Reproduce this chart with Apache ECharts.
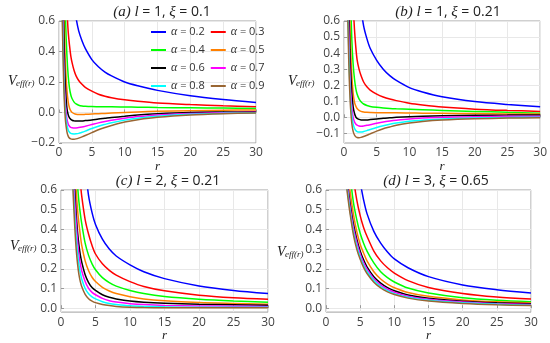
<!DOCTYPE html>
<html><head><meta charset="utf-8">
<script src="https://cdn.jsdelivr.net/npm/echarts@6/dist/echarts.min.js"></script>
<style>html,body{margin:0;padding:0;background:#fff}#c{width:550px;height:343px}</style>
</head><body><div id="c"></div>
<script>
const alphaNames = ['α = 0.2','α = 0.3','α = 0.4','α = 0.5','α = 0.6','α = 0.7','α = 0.8','α = 0.9'];
const colors = ['#0000ff','#ff0000','#00ff00','#ff8000','#000000','#ff00ff','#00ffff','#996633'];
const panelTitles = ['(a)|l|1|0.1','(b)|l|1|0.21','(c)|l|2|0.21','(d)|l|3|0.65'];
const xTicks = [0,5,10,15,20,25,30];
const yTicksA = [-0.2,0,0.2,0.4,0.6];
const yTicksB = [-0.1,0,0.1,0.2,0.3,0.4,0.5,0.6];
const yTicksC = [0,0.1,0.2,0.3,0.4,0.5,0.6];
const yTicksD = [0,0.1,0.2,0.3,0.4,0.5,0.6];

// panel (a)
const rA = [0.4,0.5,0.55,0.6,0.7,0.8,0.9,1.0,1.2,1.4,1.6,1.8,2.0,2.3,2.6,3.0,3.5,4,5,6,7,8,10,12,15,20,25,30];
const a02 = [null,null,null,null,null,null,null,null,null,null,null,null,0.83,0.71,0.62,0.535,0.47,0.42,0.347,0.3,0.265,0.24,0.2,0.175,0.145,0.11,0.085,0.065];
const a03 = [null,null,null,null,null,null,null,null,0.68,0.53,0.44,0.37,0.325,0.275,0.24,0.21,0.185,0.165,0.14,0.12,0.107,0.097,0.083,0.073,0.062,0.052,0.044,0.038];
const a04 = [null,null,null,null,null,null,0.8,0.6,0.38,0.24,0.16,0.115,0.09,0.068,0.056,0.048,0.043,0.041,0.039,0.038,0.037,0.037,0.036,0.035,0.033,0.031,0.029,0.027];
const a05 = [null,null,null,null,0.85,0.6,0.42,0.3,0.15,0.07,0.03,0.01,0.0,-0.007,-0.011,-0.013,-0.013,-0.012,-0.01,-0.008,-0.006,-0.004,0.0,0.004,0.008,0.012,0.015,0.017];
const a06 = [null,null,null,0.9,0.6,0.4,0.25,0.15,0.03,-0.015,-0.035,-0.045,-0.051,-0.055,-0.056,-0.056,-0.055,-0.053,-0.049,-0.043,-0.038,-0.033,-0.025,-0.016,-0.008,0.0,0.003,0.005];
const a07 = [null,null,0.75,0.6,0.38,0.22,0.11,0.04,-0.04,-0.075,-0.09,-0.097,-0.1,-0.102,-0.101,-0.099,-0.095,-0.09,-0.079,-0.068,-0.059,-0.051,-0.038,-0.027,-0.016,-0.006,-0.001,0.002];
const a08 = [null,0.72,0.6,0.48,0.3,0.15,0.05,-0.01,-0.08,-0.115,-0.13,-0.137,-0.14,-0.141,-0.14,-0.137,-0.13,-0.122,-0.105,-0.09,-0.078,-0.067,-0.05,-0.037,-0.024,-0.011,-0.005,-0.001];
const a09 = [0.85,0.6,0.5,0.4,0.22,0.09,0.0,-0.06,-0.125,-0.155,-0.168,-0.173,-0.175,-0.175,-0.173,-0.168,-0.16,-0.151,-0.132,-0.113,-0.098,-0.085,-0.062,-0.047,-0.031,-0.016,-0.008,-0.003];

// panel (b)
const rB = [0.4,0.5,0.55,0.6,0.7,0.8,0.9,1.0,1.2,1.4,1.6,1.8,2.0,2.3,2.6,3.0,3.5,4,5,6,7,8,10,12,15,20,25,30];
const b02 = [null,null,null,null,null,null,null,null,null,null,null,null,null,null,0.68,0.57,0.49,0.43,0.355,0.3,0.26,0.23,0.185,0.158,0.128,0.098,0.08,0.066];
const b03 = [null,null,null,null,null,null,null,null,null,0.7,0.55,0.44,0.36,0.3,0.26,0.22,0.19,0.17,0.145,0.127,0.114,0.104,0.088,0.077,0.064,0.051,0.043,0.037];
const b04 = [null,null,null,null,null,null,null,0.75,0.48,0.33,0.24,0.18,0.145,0.115,0.097,0.083,0.074,0.068,0.062,0.058,0.055,0.053,0.05,0.047,0.043,0.037,0.031,0.026];
const b05 = [null,null,null,null,null,0.8,0.6,0.45,0.26,0.15,0.095,0.07,0.055,0.043,0.037,0.033,0.031,0.03,0.029,0.029,0.028,0.028,0.027,0.026,0.025,0.023,0.021,0.02];
const b06 = [null,null,null,null,0.8,0.6,0.42,0.3,0.15,0.065,0.025,0.003,-0.007,-0.013,-0.016,-0.017,-0.016,-0.014,-0.01,-0.006,-0.003,0.0,0.004,0.007,0.01,0.013,0.014,0.015];
const b07 = [null,null,null,0.85,0.6,0.42,0.28,0.18,0.06,0.0,-0.028,-0.042,-0.049,-0.054,-0.055,-0.054,-0.05,-0.046,-0.037,-0.029,-0.023,-0.018,-0.01,-0.005,0.0,0.004,0.006,0.007];
const b08 = [null,null,0.8,0.68,0.48,0.32,0.2,0.11,0.01,-0.042,-0.068,-0.082,-0.089,-0.092,-0.092,-0.089,-0.083,-0.076,-0.063,-0.052,-0.043,-0.036,-0.025,-0.018,-0.01,-0.004,-0.001,0.001];
const b09 = [null,0.8,0.68,0.58,0.4,0.25,0.14,0.06,-0.04,-0.088,-0.11,-0.121,-0.126,-0.127,-0.125,-0.12,-0.112,-0.103,-0.086,-0.071,-0.06,-0.05,-0.036,-0.026,-0.017,-0.009,-0.005,-0.003];

// panel (c)
const rC = [1.7,1.8,1.9,2.0,2.2,2.4,2.6,2.8,3.0,3.5,4,4.5,5,6,7,8,10,12,15,20,25,30];
const c02 = [null,null,null,null,null,null,null,null,null,0.72,0.57,0.485,0.425,0.35,0.3,0.265,0.22,0.185,0.15,0.113,0.09,0.074];
const c03 = [null,null,null,null,null,null,null,0.64,0.57,0.45,0.375,0.318,0.275,0.225,0.192,0.168,0.135,0.11,0.088,0.066,0.053,0.045];
const c04 = [null,null,null,null,null,0.62,0.54,0.48,0.43,0.33,0.268,0.225,0.195,0.155,0.13,0.112,0.09,0.074,0.059,0.045,0.036,0.03];
const c05 = [null,null,null,0.72,0.6,0.5,0.43,0.37,0.32,0.24,0.19,0.157,0.135,0.106,0.087,0.074,0.058,0.047,0.038,0.029,0.024,0.02];
const c06 = [null,null,0.68,0.6,0.48,0.385,0.32,0.27,0.235,0.17,0.13,0.105,0.09,0.068,0.055,0.047,0.036,0.03,0.025,0.02,0.017,0.015];
const c07 = [null,0.68,0.6,0.54,0.43,0.34,0.27,0.225,0.19,0.135,0.1,0.08,0.068,0.05,0.038,0.031,0.023,0.018,0.014,0.011,0.01,0.009];
const c08 = [0.68,0.6,0.53,0.47,0.36,0.28,0.22,0.18,0.148,0.1,0.073,0.057,0.047,0.033,0.024,0.019,0.012,0.009,0.007,0.005,0.005,0.004];
const c09 = [0.63,0.55,0.48,0.41,0.3,0.225,0.17,0.135,0.11,0.07,0.048,0.036,0.028,0.019,0.013,0.009,0.005,0.003,0.002,0.002,0.002,0.002];

// panel (d)
const rD = [2.9,3.0,3.2,3.5,4,4.5,5,5.5,6,7,8,9,10,12,15,20,25,30];
const d02 = [null,null,null,null,null,null,0.64,0.55,0.48,0.39,0.33,0.285,0.25,0.205,0.16,0.118,0.094,0.077];
const d03 = [null,null,null,null,0.66,0.55,0.47,0.41,0.365,0.29,0.24,0.205,0.178,0.14,0.105,0.075,0.057,0.046];
const d04 = [null,null,null,0.68,0.54,0.45,0.38,0.33,0.29,0.23,0.185,0.155,0.133,0.102,0.077,0.053,0.04,0.032];
const d05 = [null,null,0.69,0.6,0.48,0.39,0.325,0.28,0.24,0.185,0.148,0.122,0.104,0.08,0.06,0.042,0.032,0.026];
const d06 = [null,0.685,0.62,0.54,0.43,0.35,0.29,0.245,0.21,0.16,0.127,0.104,0.088,0.067,0.05,0.035,0.027,0.022];
const d07 = [0.7,0.665,0.6,0.52,0.41,0.335,0.275,0.232,0.198,0.15,0.118,0.096,0.081,0.061,0.045,0.031,0.023,0.018];
const d08 = [0.68,0.645,0.58,0.5,0.39,0.315,0.26,0.218,0.186,0.14,0.11,0.089,0.074,0.055,0.04,0.027,0.02,0.015];
const d09 = [0.655,0.62,0.563,0.485,0.375,0.3,0.248,0.207,0.176,0.132,0.103,0.083,0.069,0.051,0.036,0.024,0.017,0.013];

const panels = [
  {r: rA, vals: [a02,a03,a04,a05,a06,a07,a08,a09], yMin: -0.2, yTicks: yTicksA,
   grid: {left: 59, top: 21, width: 197, height: 122}, titleX: 157, titleY: 0, vx: 8, vy: 81, nameGap: 12},
  {r: rB, vals: [b02,b03,b04,b05,b06,b07,b08,b09], yMin: -0.16, yTicks: yTicksB,
   grid: {left: 344, top: 21, width: 203, height: 122}, titleX: 443, titleY: 0, vx: 288, vy: 81, nameGap: 12},
  {r: rC, vals: [c02,c03,c04,c05,c06,c07,c08,c09], yMin: -0.02, yTicks: yTicksC,
   grid: {left: 61, top: 190, width: 207, height: 126}, titleX: 163, titleY: 169, vx: 10, vy: 246, nameGap: 10},
  {r: rD, vals: [d02,d03,d04,d05,d06,d07,d08,d09], yMin: -0.02, yTicks: yTicksD,
   grid: {left: 326, top: 190, width: 205, height: 126}, titleX: 431, titleY: 169, vx: 277, vy: 252, nameGap: 10}
];

const serif = '"Liberation Serif", "DejaVu Serif", serif';
const sans = '"Open Sans", "Noto Sans", sans-serif';
const fmt = v => (v < 0 ? '\u2212' : '') + Math.abs(v).toFixed(1);

const grids = [], xAxes = [], yAxes = [], series = [], titles = [], graphics = [];
panels.forEach((p, k) => {
  grids.push(Object.assign({show: true, borderColor: '#a0a0a0', borderWidth: 1, backgroundColor: '#fff'}, p.grid));
  xAxes.push({
    type: 'value', gridIndex: k, min: 0, max: 30, interval: 5,
    name: 'r', nameLocation: 'middle', nameGap: p.nameGap,
    nameTextStyle: {fontFamily: serif, fontStyle: 'italic', fontSize: 13, color: '#222'},
    axisLine: {show: false},
    axisTick: {show: true, inside: true, length: 3, lineStyle: {color: '#999'}},
    axisLabel: {fontFamily: sans, fontSize: 12, color: '#444', margin: 4},
    splitLine: {show: true, lineStyle: {color: '#e8e8e8', width: 1}}
  });
  yAxes.push({
    type: 'value', gridIndex: k, min: p.yMin, max: 0.6,
    axisLine: {show: false},
    axisTick: {show: true, inside: true, length: 3, lineStyle: {color: '#999'}, customValues: p.yTicks},
    axisLabel: {fontFamily: sans, fontSize: 12, color: '#444', margin: 4, customValues: p.yTicks, formatter: fmt},
    splitLine: {show: true, lineStyle: {color: '#e8e8e8', width: 1}}
  });
  p.vals.forEach((vals, i) => {
    const data = [];
    p.r.forEach((x, j) => { if (vals[j] !== null) data.push([x, vals[j]]); });
    series.push({
      type: 'line', name: alphaNames[i], xAxisIndex: k, yAxisIndex: k, data: data,
      symbol: 'none', smooth: 0.3, clip: true,
      lineStyle: {color: colors[i], width: 1.5}, itemStyle: {color: colors[i]}
    });
  });
  const t = panelTitles[k].split('|');
  titles.push({
    text: '{i|' + t[0] + ' ' + t[1] + '} = ' + t[2] + ', {i|\u03BE} = ' + t[3],
    left: p.titleX, top: p.titleY, textAlign: 'center',
    textStyle: {fontFamily: sans, fontSize: 14, fontWeight: 'normal', color: '#222',
      rich: {i: {fontFamily: serif, fontStyle: 'italic', fontSize: 15, color: '#222'}}}
  });
  graphics.push({type: 'text', x: p.vx, y: p.vy, style: {text: 'V', font: 'italic 14px ' + serif, fill: '#222', verticalAlign: 'middle'}});
  graphics.push({type: 'text', x: p.vx + 8, y: p.vy + 3, style: {text: 'eff(r)', font: 'italic 9px ' + serif, fill: '#222', verticalAlign: 'middle'}});
});

const chart = echarts.init(document.getElementById('c'), null, {renderer: 'canvas'});
chart.setOption({
  animation: false,
  backgroundColor: '#fff',
  title: titles,
  grid: grids, xAxis: xAxes, yAxis: yAxes, series: series,
  graphic: graphics,
  legend: {
    data: alphaNames, left: 146, top: 21, width: 122, itemGap: 6, itemWidth: 15, itemHeight: 2,
    icon: 'rect',
    textStyle: {fontFamily: sans, fontSize: 11, color: '#333', lineHeight: 12,
      rich: {a: {fontFamily: serif, fontStyle: 'italic', fontSize: 12, color: '#333', lineHeight: 12}}},
    formatter: n => n.replace('α', '{a|α}')
  }
});
</script></body></html>
